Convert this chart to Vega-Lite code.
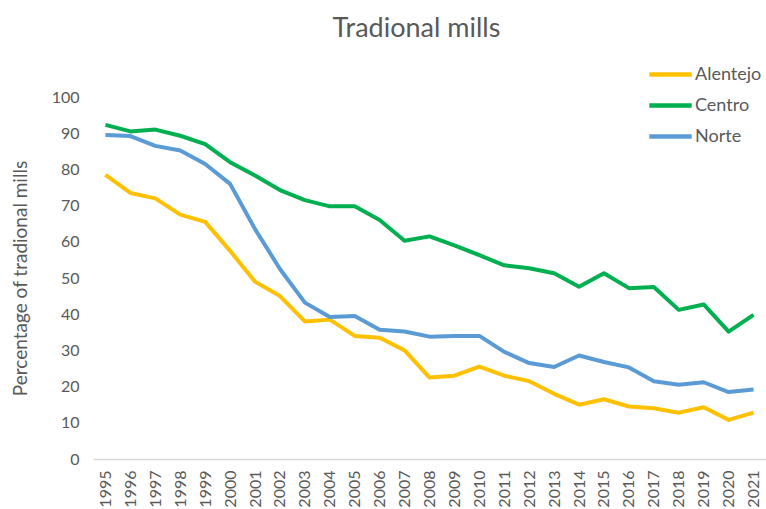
{
  "$schema": "https://vega.github.io/schema/vega-lite/v6.json",
  "width": 673,
  "height": 362,
  "autosize": "none",
  "padding": {"left": 93, "top": 97, "right": 0, "bottom": 50},
  "background": "white",
  "title": {"text": "Tradional mills", "font": "Lato", "fontSize": 27, "fontWeight": "normal", "color": "#595959", "anchor": "middle", "offset": 15, "dx": -13, "frame": "group"},
  "config": {"view": {"stroke": null}, "font": "Lato"},
  "data": {"values": [
    {"year": "1995", "region": "Alentejo", "value": 78.5},
    {"year": "1996", "region": "Alentejo", "value": 73.5},
    {"year": "1997", "region": "Alentejo", "value": 72},
    {"year": "1998", "region": "Alentejo", "value": 67.5},
    {"year": "1999", "region": "Alentejo", "value": 65.5},
    {"year": "2000", "region": "Alentejo", "value": 57.5},
    {"year": "2001", "region": "Alentejo", "value": 49},
    {"year": "2002", "region": "Alentejo", "value": 45},
    {"year": "2003", "region": "Alentejo", "value": 38},
    {"year": "2004", "region": "Alentejo", "value": 38.5},
    {"year": "2005", "region": "Alentejo", "value": 34},
    {"year": "2006", "region": "Alentejo", "value": 33.5},
    {"year": "2007", "region": "Alentejo", "value": 30},
    {"year": "2008", "region": "Alentejo", "value": 22.5},
    {"year": "2009", "region": "Alentejo", "value": 23},
    {"year": "2010", "region": "Alentejo", "value": 25.5},
    {"year": "2011", "region": "Alentejo", "value": 23},
    {"year": "2012", "region": "Alentejo", "value": 21.5},
    {"year": "2013", "region": "Alentejo", "value": 18},
    {"year": "2014", "region": "Alentejo", "value": 15},
    {"year": "2015", "region": "Alentejo", "value": 16.5},
    {"year": "2016", "region": "Alentejo", "value": 14.5},
    {"year": "2017", "region": "Alentejo", "value": 14},
    {"year": "2018", "region": "Alentejo", "value": 12.8},
    {"year": "2019", "region": "Alentejo", "value": 14.3},
    {"year": "2020", "region": "Alentejo", "value": 10.8},
    {"year": "2021", "region": "Alentejo", "value": 12.8},
    {"year": "1995", "region": "Centro", "value": 92.3},
    {"year": "1996", "region": "Centro", "value": 90.5},
    {"year": "1997", "region": "Centro", "value": 91},
    {"year": "1998", "region": "Centro", "value": 89.3},
    {"year": "1999", "region": "Centro", "value": 87},
    {"year": "2000", "region": "Centro", "value": 82},
    {"year": "2001", "region": "Centro", "value": 78.3},
    {"year": "2002", "region": "Centro", "value": 74.3},
    {"year": "2003", "region": "Centro", "value": 71.5},
    {"year": "2004", "region": "Centro", "value": 69.8},
    {"year": "2005", "region": "Centro", "value": 69.8},
    {"year": "2006", "region": "Centro", "value": 66},
    {"year": "2007", "region": "Centro", "value": 60.3},
    {"year": "2008", "region": "Centro", "value": 61.5},
    {"year": "2009", "region": "Centro", "value": 59},
    {"year": "2010", "region": "Centro", "value": 56.3},
    {"year": "2011", "region": "Centro", "value": 53.5},
    {"year": "2012", "region": "Centro", "value": 52.7},
    {"year": "2013", "region": "Centro", "value": 51.3},
    {"year": "2014", "region": "Centro", "value": 47.6},
    {"year": "2015", "region": "Centro", "value": 51.3},
    {"year": "2016", "region": "Centro", "value": 47.2},
    {"year": "2017", "region": "Centro", "value": 47.5},
    {"year": "2018", "region": "Centro", "value": 41.2},
    {"year": "2019", "region": "Centro", "value": 42.7},
    {"year": "2020", "region": "Centro", "value": 35.2},
    {"year": "2021", "region": "Centro", "value": 39.8},
    {"year": "1995", "region": "Norte", "value": 89.5},
    {"year": "1996", "region": "Norte", "value": 89.2},
    {"year": "1997", "region": "Norte", "value": 86.5},
    {"year": "1998", "region": "Norte", "value": 85.2},
    {"year": "1999", "region": "Norte", "value": 81.5},
    {"year": "2000", "region": "Norte", "value": 76},
    {"year": "2001", "region": "Norte", "value": 63.5},
    {"year": "2002", "region": "Norte", "value": 52.5},
    {"year": "2003", "region": "Norte", "value": 43.2},
    {"year": "2004", "region": "Norte", "value": 39.2},
    {"year": "2005", "region": "Norte", "value": 39.5},
    {"year": "2006", "region": "Norte", "value": 35.7},
    {"year": "2007", "region": "Norte", "value": 35.2},
    {"year": "2008", "region": "Norte", "value": 33.8},
    {"year": "2009", "region": "Norte", "value": 34},
    {"year": "2010", "region": "Norte", "value": 34},
    {"year": "2011", "region": "Norte", "value": 29.6},
    {"year": "2012", "region": "Norte", "value": 26.5},
    {"year": "2013", "region": "Norte", "value": 25.4},
    {"year": "2014", "region": "Norte", "value": 28.6},
    {"year": "2015", "region": "Norte", "value": 26.8},
    {"year": "2016", "region": "Norte", "value": 25.3},
    {"year": "2017", "region": "Norte", "value": 21.5},
    {"year": "2018", "region": "Norte", "value": 20.5},
    {"year": "2019", "region": "Norte", "value": 21.2},
    {"year": "2020", "region": "Norte", "value": 18.5},
    {"year": "2021", "region": "Norte", "value": 19.2}
  ]},
  "mark": {"type": "line", "strokeWidth": 4, "strokeJoin": "round"},
  "encoding": {
    "x": {
      "field": "year", "type": "ordinal",
      "scale": {"type": "point", "padding": 0.5},
      "axis": {"title": null, "labelAngle": -90, "labelAlign": "right", "labelBaseline": "middle", "labelFontSize": 16, "labelColor": "#595959", "labelFont": "Lato", "ticks": false, "labelPadding": 11, "domainColor": "#d9d9d9", "domainWidth": 1.5, "grid": false}
    },
    "y": {
      "field": "value", "type": "quantitative",
      "scale": {"domain": [0, 100]},
      "axis": {"title": "Percentage of tradional mills", "titleFontSize": 19, "titleFontWeight": "normal", "titleColor": "#595959", "titleFont": "Lato", "titlePadding": 21, "values": [0,10,20,30,40,50,60,70,80,90,100], "labelFontSize": 16, "labelColor": "#595959", "labelFont": "Lato", "labelPadding": 14, "ticks": false, "domain": false, "grid": false}
    },
    "color": {
      "field": "region", "type": "nominal",
      "scale": {"domain": ["Alentejo", "Centro", "Norte"], "range": ["#FFC000", "#00B050", "#5B9BD5"]},
      "legend": {"title": null, "orient": "none", "legendX": 561, "legendY": -39, "symbolType": "M-1.5,0H1.5", "symbolSize": 800, "symbolStrokeWidth": 4.5, "labelFontSize": 18, "labelColor": "#595959", "labelFont": "Lato", "rowPadding": 5, "labelOffset": 8}
    }
  }
}
